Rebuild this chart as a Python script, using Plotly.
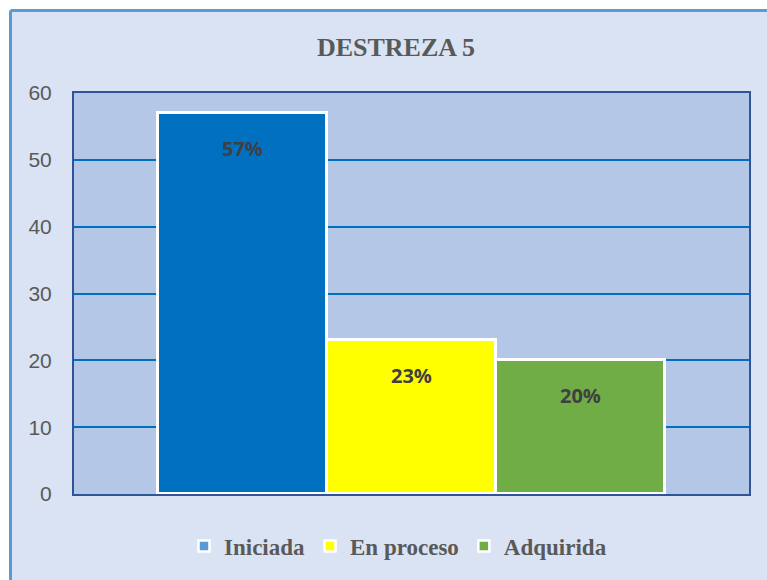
import plotly.graph_objects as go

categories = ["Iniciada", "En proceso", "Adquirida"]
values = [57, 23, 20]
labels = ["57%", "23%", "20%"]
bar_colors = ["#0070C0", "#FFFF00", "#70AD47"]
legend_colors = ["#5B9BD5", "#FFFF00", "#70AD47"]
title_text = "DESTREZA 5"

W, H = 767, 580
ML, MT = 74, 93
MR = W - 749
MB = H - 494
PW, PH = W - ML - MR, H - MT - MB

fig = go.Figure()
for c, v, col in zip(categories, values, bar_colors):
    fig.add_trace(go.Bar(x=[c], y=[v], name=c, marker=dict(color=col, line=dict(color="white", width=3)),
                         width=1, showlegend=False, hoverinfo="skip"))
for c, col in zip(categories, legend_colors):
    fig.add_trace(go.Scatter(x=[None], y=[None], mode="markers", name=c,
                             marker=dict(symbol="square", color=col, size=11, line=dict(color="white", width=2.5))))

for c, v, t in zip(categories, values, labels):
    fig.add_annotation(x=c, y=v - 5.3, text=t, showarrow=False,
                       font=dict(family="Open Sans", size=20, color="#404040", weight="bold"))

# outer frame: white margin, then top and left border only
fx0 = (10.5 - ML) / PW
fx1 = (W + 20 - ML) / PW
fy0 = -(H + 20 - MT - PH) / PH
fy1 = (MT + PH - 10.5) / PH
fig.add_shape(type="rect", xref="paper", yref="paper", layer="below",
              x0=-(ML + 20) / PW, x1=fx1, y0=fy1, y1=(MT + PH + 20) / PH,
              fillcolor="white", line=dict(width=0))
fig.add_shape(type="rect", xref="paper", yref="paper", layer="below",
              x0=-(ML + 20) / PW, x1=fx0, y0=fy0, y1=(MT + PH + 20) / PH,
              fillcolor="white", line=dict(width=0))
fig.add_shape(type="line", xref="paper", yref="paper", layer="below",
              x0=fx0, x1=fx1, y0=fy1, y1=fy1, line=dict(color="#5B9BD5", width=3))
fig.add_shape(type="line", xref="paper", yref="paper", layer="below",
              x0=fx0, x1=fx0, y0=fy0, y1=fy1, line=dict(color="#5B9BD5", width=3))

fig.update_layout(
    width=W, height=H, margin=dict(l=ML, r=MR, t=MT, b=MB),
    paper_bgcolor="#DAE3F3", plot_bgcolor="#B4C7E7",
    barmode="overlay", bargap=0,
    title=dict(text=title_text, x=396 / W, xanchor="center", y=1 - 47 / H, yanchor="middle",
               font=dict(family="Liberation Serif", size=26, color="#595959", weight="bold")),
    xaxis=dict(type="category", categoryorder="array", categoryarray=categories, range=[-1, 3],
               showticklabels=False, showgrid=False, showline=True, linecolor="#2F5597", linewidth=2,
               mirror=True, ticks="", fixedrange=True),
    yaxis=dict(range=[0, 60], dtick=10, showgrid=True, gridcolor="#0070C0", gridwidth=1.5,
               showline=True, linecolor="#2F5597", linewidth=2, mirror=True, zeroline=False,
               tickfont=dict(family="Liberation Sans", size=21, color="#595959"),
               ticklabelstandoff=16, ticks=""),
    legend=dict(orientation="h", x=(398 - ML) / PW, xanchor="center",
                y=-(546 - 494) / PH, yanchor="middle",
                font=dict(family="Liberation Serif", size=23, color="#595959", weight="bold"),
                bgcolor="rgba(0,0,0,0)", itemwidth=30, tracegroupgap=0),
)

fig.write_html("out.html", config={"displayModeBar": False},
               post_script="document.body.style.margin='0';document.body.style.overflow='hidden';")
